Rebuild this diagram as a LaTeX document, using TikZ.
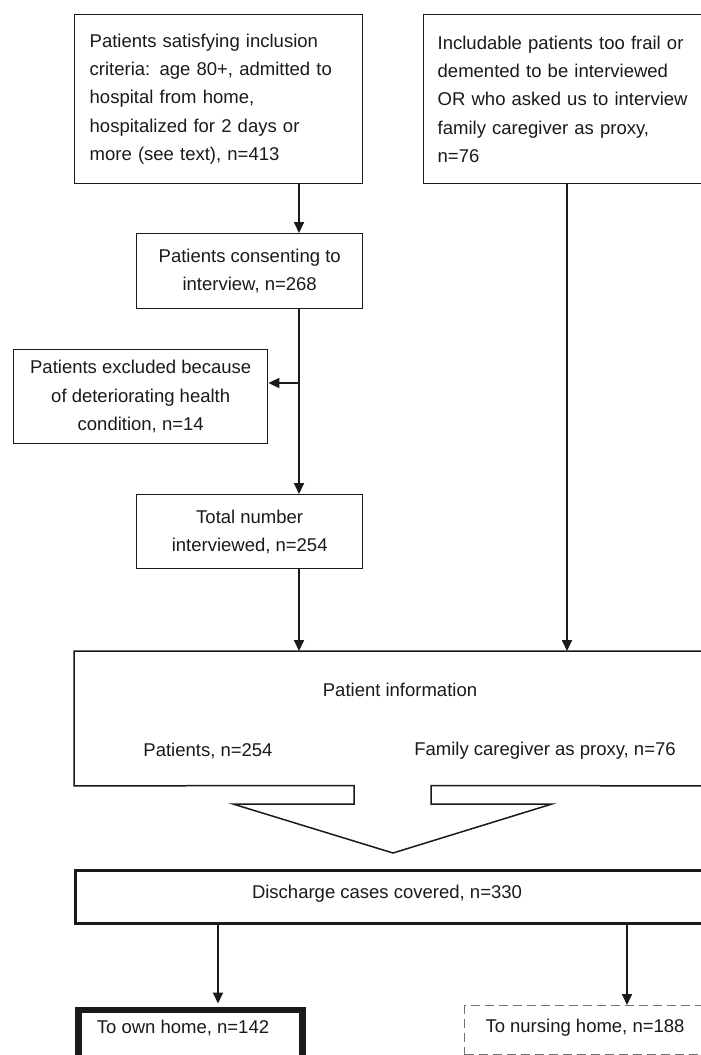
\documentclass[tikz,border=0pt]{standalone}
\usepackage{fontspec}
\setmainfont{Liberation Sans}
\usetikzlibrary{arrows.meta}
\definecolor{ink}{HTML}{1A1A1A}
\definecolor{dashgray}{HTML}{707070}
\tikzset{
  every node/.style={font=\fontsize{18.5}{28.4}\selectfont, text=ink},
  box/.style={draw=ink, line width=1.4pt, rectangle, anchor=north west, inner xsep=0pt, inner ysep=0pt},
  txt/.style={inner sep=0pt},
  arr/.style={draw=ink, line width=1.7pt, -{Triangle[width=10pt,length=11pt]}},
  plain/.style={draw=ink, line width=1.7pt}
}
\begin{document}
\begin{tikzpicture}[x=1pt,y=-1pt]
\useasboundingbox (0,0) rectangle (701,1055);
\clip (0,0) rectangle (701,1055);
\fill[white] (0,0) rectangle (701,1055);

% top-left box
\node[box, minimum width=288pt, minimum height=169pt, text width=258pt, align=left, inner xsep=15pt] (b1) at (74,14)
  {Patients satisfying inclusion\\criteria: age 80+, admitted to\\hospital from home,\\hospitalized for 2 days or\\more (see text), n=413};

% top-right box
\node[box, minimum width=300pt, minimum height=169pt, text width=272pt, align=left, inner xsep=14pt] (b2) at (423,14)
  {Includable patients too frail or\\demented to be interviewed\\OR who asked us to interview\\family caregiver as proxy,\\n=76};

% consenting
\node[box, minimum width=226pt, minimum height=75pt, align=center] (b3) at (136,233)
  {Patients consenting to\\interview, n=268};

% excluded
\node[box, minimum width=254pt, minimum height=94pt, align=center] (b4) at (13,349)
  {Patients excluded because\\of deteriorating health\\condition, n=14};

% total interviewed
\node[box, minimum width=226pt, minimum height=74pt, align=center] (b5) at (136,494)
  {Total number\\interviewed, n=254};

% patient information region
\node[rectangle, anchor=north west, minimum width=638pt, minimum height=134.5pt, inner sep=0pt] (pinfo) at (74,651) {};
\draw[draw=ink, line width=1.5pt, line join=miter]
  (pinfo.north east) -- (pinfo.north west) -- (pinfo.south west) -- (354,785.5) -- (354,804) -- (233,804)
  -- (393,853) -- (552,804) -- (431,804) -- (431,785.5) -- (pinfo.south east);
\node[txt] (ptitle) at (400,690) {Patient information};
\node[txt] (ppat) at (208,751) {Patients, n=254};
\node[txt] (pfam) at (545,751) {Family caregiver as proxy, n=76};

% discharge cases
\node[box, line width=2.6pt, minimum width=630pt, minimum height=53pt] (dis) at (74,869) {};
\node[txt] (distxt) at (387,894) {Discharge cases covered, n=330};

% own home
\node[box, line width=6.5pt, minimum width=224pt, minimum height=90pt] (own) at (75,1006.5) {};
\node[txt] (owntxt) at (183,1028) {To own home, n=142};

% nursing home
\node[box, draw=dashgray, line width=1.3pt, dash pattern=on 9pt off 5pt, minimum width=270pt, minimum height=49pt] (nurse) at (464,1005) {};
\node[txt] (nursetxt) at (585,1028) {To nursing home, n=188};

% connectors
\coordinate (xa) at (299,0);
\coordinate (xb) at (567,0);
\coordinate (xc) at (218,0);
\coordinate (xd) at (627,0);
\coordinate (br) at (299,383);

\draw[arr] (b1.south -| xa) -- (b3.north -| xa);
\draw[arr] (b2.south -| xb) -- (pinfo.north -| xb);
\draw[plain] (b3.south -| xa) -- (br);
\draw[arr] (br) -- (b5.north -| xa);
\draw[arr] (br) -- (br -| b4.east);
\draw[arr] (b5.south -| xa) -- (pinfo.north -| xa);
\draw[arr, shorten >=3pt] (dis.south -| xc) -- (own.north -| xc);
\draw[arr] (dis.south -| xd) -- (nurse.north -| xd);
\end{tikzpicture}
\end{document}
